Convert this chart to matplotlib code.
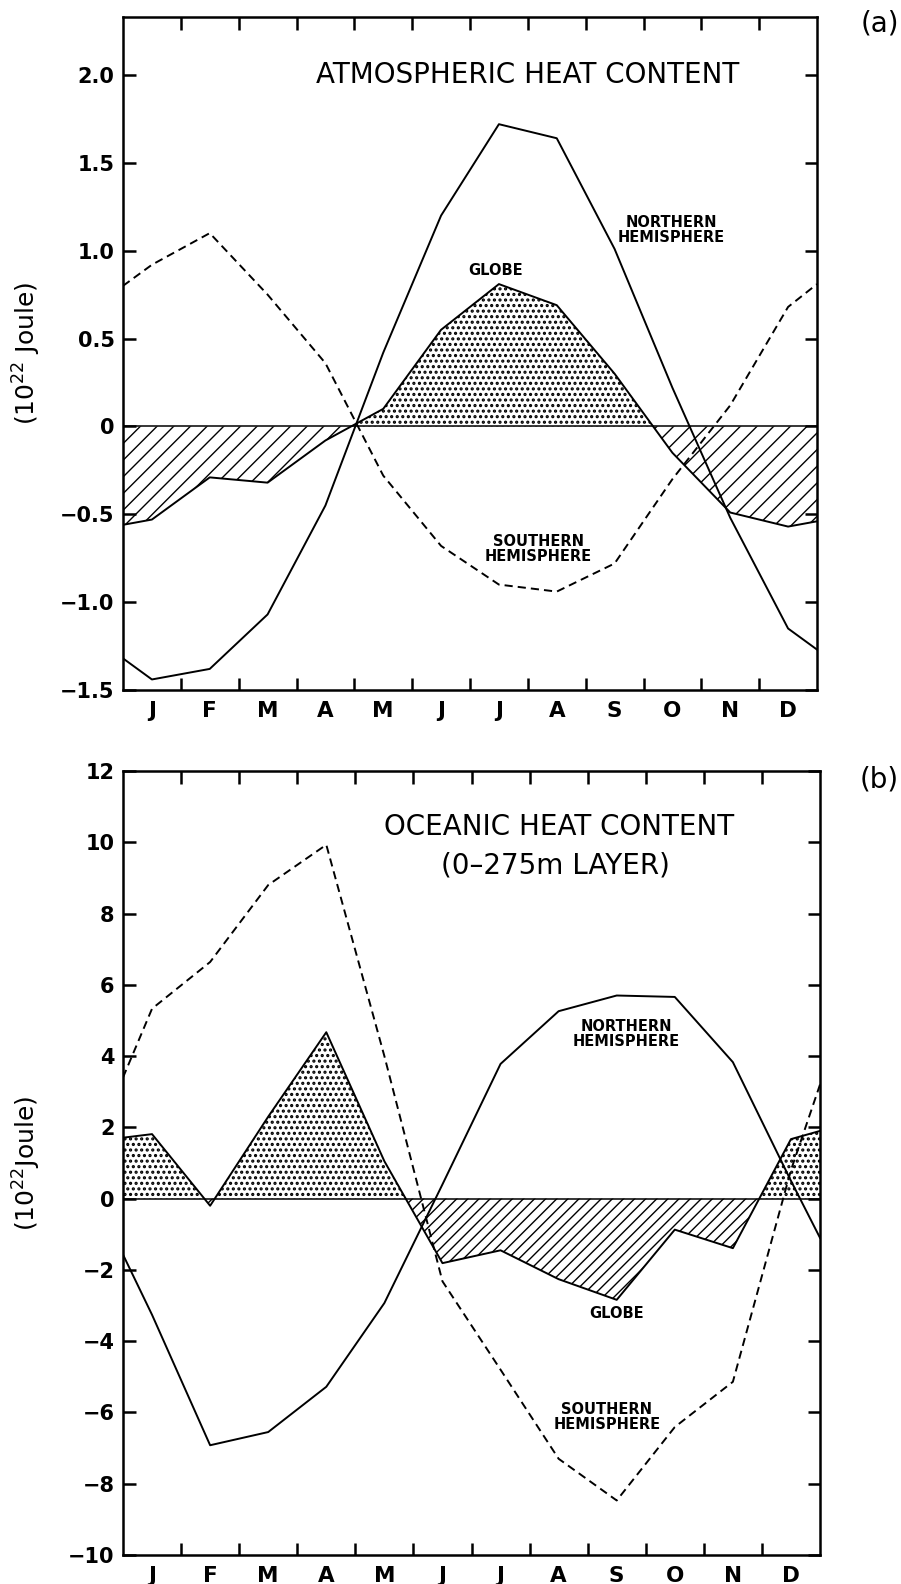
"""Conteúdo de calor atmosférico e oceânico - ciclo anual"""

import numpy as np
import matplotlib.pyplot as plt

plt.rcParams['font.family'] = ['DejaVu Sans']

# Meses (valores no meio de cada mês, mais as bordas do ano)
months = ["J", "F", "M", "A", "M", "J", "J", "A", "S", "O", "N", "D"]

# (a) Conteúdo de calor atmosférico (10^22 J): borda esq., J ... D, borda dir.
atm_nh = [-1.32, -1.44, -1.38, -1.07, -0.45, 0.42, 1.20, 1.72, 1.64, 1.01, 0.22, -0.52, -1.15, -1.27]
atm_sh = [0.80, 0.92, 1.10, 0.75, 0.36, -0.28, -0.68, -0.90, -0.94, -0.78, -0.30, 0.12, 0.68, 0.81]
atm_globe = [-0.56, -0.53, -0.29, -0.32, -0.08, 0.10, 0.55, 0.81, 0.69, 0.30, -0.15, -0.49, -0.57, -0.54]
atm_yticks = [-1.5, -1.0, -0.5, 0, 0.5, 1.0, 1.5, 2.0]
atm_ylabels = ["\u22121.5", "\u22121.0", "\u22120.5", "0", "0.5", "1.0", "1.5", "2.0"]

# (b) Conteúdo de calor oceânico, camada 0-275 m (10^22 J)
oce_nh = [-1.57, -3.26, -6.92, -6.55, -5.28, -2.93, 0.40, 3.78, 5.26, 5.70, 5.66, 3.83, 0.50, -1.10]
oce_sh = [3.40, 5.33, 6.64, 8.80, 9.93, 4.00, -2.32, -4.80, -7.30, -8.47, -6.41, -5.14, 0.80, 3.20]
oce_globe = [1.71, 1.81, -0.20, 2.30, 4.67, 1.05, -1.81, -1.45, -2.26, -2.84, -0.87, -1.39, 1.67, 1.90]
oce_yticks = [-10, -8, -6, -4, -2, 0, 2, 4, 6, 8, 10, 12]
oce_ylabels = ["\u221210", "\u22128", "\u22126", "\u22124", "\u22122", "0",
               "2", "4", "6", "8", "10", "12"]

x = np.concatenate([[0], np.arange(12) + 0.5, [12]])


def painel(ax, nh, sh, globe, yticks, ylabels, ylim, hatch_neg, ylabel):
    nh, sh, globe = np.array(nh), np.array(sh), np.array(globe)

    # preenchimento do globo: pontilhado acima de zero, hachurado abaixo
    with plt.rc_context({'hatch.linewidth': 1.5}):
        ax.fill_between(x, globe, 0, where=globe >= 0, interpolate=True,
                        facecolor="white", edgecolor="black", hatch="...", linewidth=0)
    with plt.rc_context({'hatch.linewidth': 1.0}):
        ax.fill_between(x, globe, 0, where=globe <= 0, interpolate=True,
                        facecolor="white", edgecolor="black", hatch=hatch_neg, linewidth=0)
    ax.axhline(0, color="black", lw=1.1)

    ax.plot(x, nh, color="black", lw=1.4)
    ax.plot(x, sh, color="black", lw=1.4, linestyle=(0, (4.2, 2.6)))
    ax.plot(x, globe, color="black", lw=1.4)

    ax.set_xlim(0, 12)
    ax.set_ylim(*ylim)

    ax.set_xticks(np.arange(1, 12))
    ax.set_xticklabels([])
    ax.set_xticks(np.arange(12) + 0.5, minor=True)
    ax.set_xticklabels(months, minor=True, fontsize=15.5, fontweight="bold")
    ax.tick_params(axis="x", which="major", direction="in", length=9, width=1.8,
                   top=True, bottom=True)
    ax.tick_params(axis="x", which="minor", length=0, pad=8)

    ax.set_yticks(yticks)
    ax.set_yticklabels(ylabels, fontsize=15, fontweight="bold")
    ax.tick_params(axis="y", direction="in", length=9, width=1.8,
                   left=True, right=True, pad=6)

    for s in ax.spines.values():
        s.set_linewidth(1.8)

    ax.set_ylabel(ylabel, fontsize=18)
    ax.yaxis.set_label_coords(-0.115, 0.5)


fig = plt.figure(figsize=(9.01, 15.84), dpi=100)
ax1 = fig.add_axes([123 / 901, 1 - 690 / 1584, 694 / 901, 673 / 1584])
ax2 = fig.add_axes([123 / 901, 1 - 1555 / 1584, 697 / 901, 784 / 1584])

painel(ax1, atm_nh, atm_sh, atm_globe, atm_yticks, atm_ylabels, (-1.5, 2.33), "//",
       "(10$^{22}$ Joule)")
painel(ax2, oce_nh, oce_sh, oce_globe, oce_yticks, oce_ylabels, (-10, 12), "///",
       "(10$^{22}$Joule)")

# Textos do painel (a)
ax1.text(7.0, 2.0, "ATMOSPHERIC HEAT CONTENT", fontsize=20, ha="center", va="center")
ax1.text(9.48, 1.12, "NORTHERN\nHEMISPHERE", fontsize=10.5, fontweight="bold",
         ha="center", va="center", linespacing=1.0)
ax1.text(6.44, 0.89, "GLOBE", fontsize=10.5, fontweight="bold", ha="center", va="center")
ax1.text(7.18, -0.70, "SOUTHERN\nHEMISPHERE", fontsize=10.5, fontweight="bold",
         ha="center", va="center", linespacing=1.0)

# Textos do painel (b)
ax2.text(7.51, 10.44, "OCEANIC HEAT CONTENT", fontsize=20, ha="center", va="center")
ax2.text(7.45, 9.34, "(0\u2013275m LAYER)", fontsize=20, ha="center", va="center")
ax2.text(8.66, 4.63, "NORTHERN\nHEMISPHERE", fontsize=10.5, fontweight="bold",
         ha="center", va="center", linespacing=1.0)
ax2.text(8.50, -3.22, "GLOBE", fontsize=10.5, fontweight="bold", ha="center", va="center")
ax2.text(8.33, -6.13, "SOUTHERN\nHEMISPHERE", fontsize=10.5, fontweight="bold",
         ha="center", va="center", linespacing=1.0)

fig.text(0.977, 0.985, "(a)", fontsize=20, ha="center", va="center")
fig.text(0.976, 0.508, "(b)", fontsize=20, ha="center", va="center")

fig.savefig("out.png", dpi=100)
